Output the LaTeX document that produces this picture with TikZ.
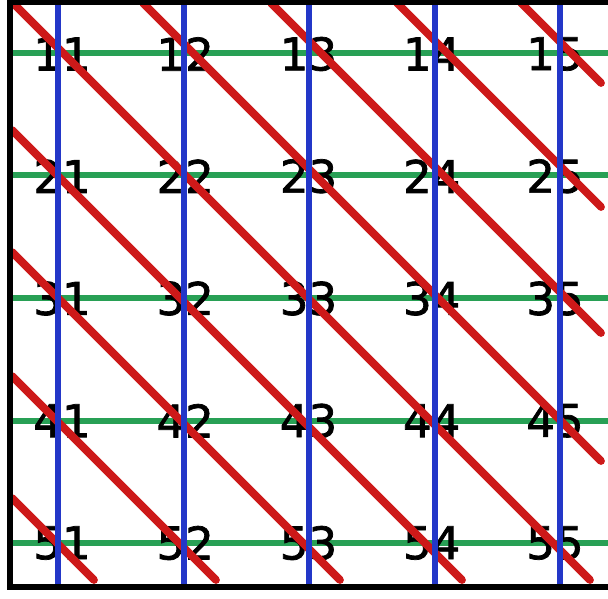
\documentclass[tikz,border=0pt]{standalone}
\usepackage{fontspec}
\newfontfamily\labelfont[FakeBold=1.6]{DejaVu Sans}
\usepackage{tikz}
\usetikzlibrary{positioning}

\definecolor{gridred}{RGB}{205,25,25}
\definecolor{gridblue}{RGB}{35,55,200}
\definecolor{gridgreen}{RGB}{40,160,85}

\begin{document}
\begin{tikzpicture}[x=0.5pt, y=-0.5pt,
    frame/.style={line width=3pt, black},
    rowline/.style={line width=3pt, gridgreen},
    colline/.style={line width=3pt, gridblue},
    diagline/.style={line width=3.9pt, gridred, line cap=round},
    num/.style={font=\labelfont\fontsize{22.5}{27}\selectfont, inner sep=0pt},
  ]
    \useasboundingbox (0,0) rectangle (608,598);

    % Rows (green)
    \foreach \r in {1,...,5} {
      \pgfmathsetmacro{\yy}{53+122.5*(\r-1)}
      \draw[rowline] (10,\yy) -- (608,\yy);
    }

    % Index labels
    \foreach \r in {1,...,5} {
      \foreach \c in {1,...,5} {
        \node[num] (n\r\c) at ({62+123.25*(\c-1)}, {54+122.25*(\r-1)}) {\r\c};
      }
    }

    % Diagonals (red)
    \foreach \k in {-518,-394,-268,-140,-10,118,240,364,486} {
      \pgfmathsetmacro{\xs}{max(12,3-\k)}
      \pgfmathsetmacro{\xe}{min(601,580-\k)}
      \draw[diagline] (\xs,{\xs+\k}) -- (\xe,{\xe+\k});
    }

    % Columns (blue)
    \foreach \c in {1,...,5} {
      \pgfmathsetmacro{\xx}{58+125.5*(\c-1)}
      \draw[colline] (\xx,2) -- (\xx,587);
    }

    % Frame
    \draw[frame] (608,2) -- (10,2) -- (10,587) -- (608,587);

  \end{tikzpicture}
\end{document}
